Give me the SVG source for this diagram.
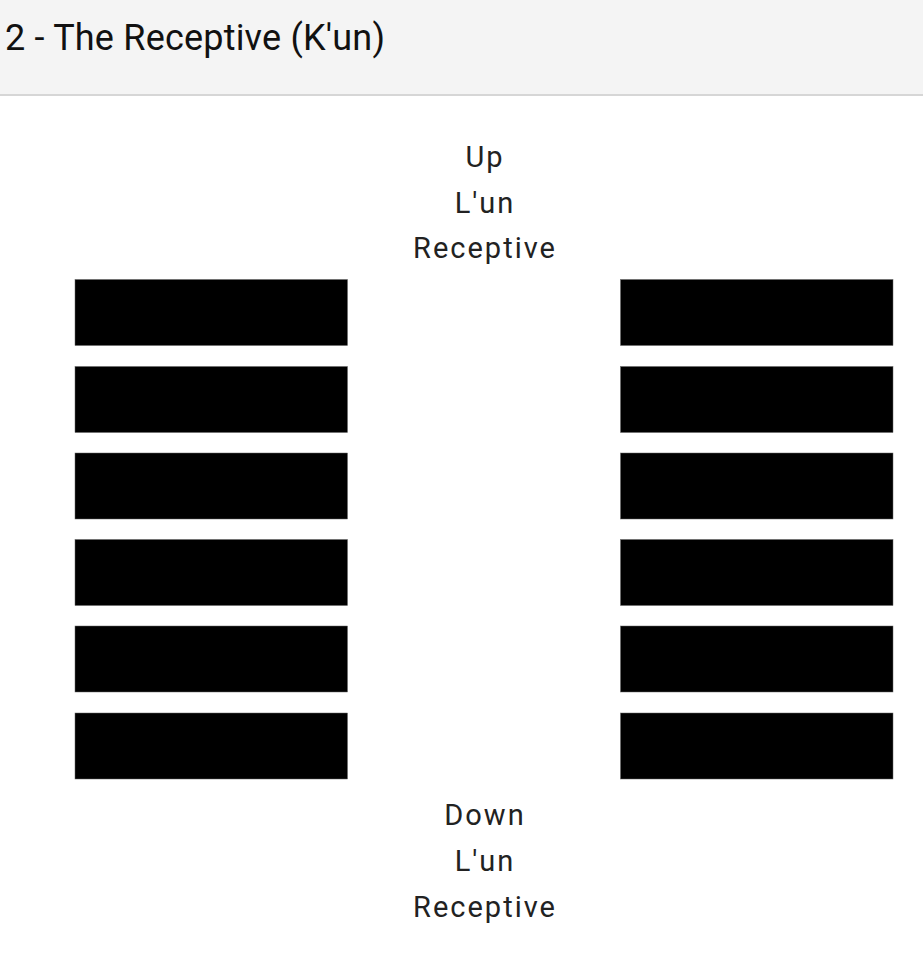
<svg xmlns="http://www.w3.org/2000/svg" width="923" height="958" viewBox="0 0 923 958">
<style>
.bar{fill:#000;stroke:#666;stroke-width:0.5}
.lbl{font-family:Roboto,"Liberation Sans",sans-serif;font-size:29px;letter-spacing:2px;fill:#222;text-anchor:middle}
.title{font-family:Roboto,"Liberation Sans",sans-serif;font-size:36px;letter-spacing:0.2px;fill:#111}
</style>
<rect x="0" y="0" width="923" height="958" fill="#fff"/>
<g id="header">
<rect x="0" y="0" width="923" height="94" fill="#f4f4f4"/>
<rect x="0" y="94" width="923" height="2" fill="#d6d6d6"/>
<text class="title" x="5" y="50">2 - The Receptive (K'un)</text>
</g>
<g id="top-label">
<text class="lbl" x="485" y="167">Up</text>
<text class="lbl" x="485" y="213">L'un</text>
<text class="lbl" x="485" y="258">Receptive</text>
</g>
<g id="left-hexagram">
<rect class="bar" x="75" y="279.5" width="272.5" height="66"/>
<rect class="bar" x="75" y="366.5" width="272.5" height="66"/>
<rect class="bar" x="75" y="453" width="272.5" height="66"/>
<rect class="bar" x="75" y="539.5" width="272.5" height="66"/>
<rect class="bar" x="75" y="626" width="272.5" height="66"/>
<rect class="bar" x="75" y="713" width="272.5" height="66"/>
</g>
<g id="right-hexagram">
<rect class="bar" x="620.5" y="279.5" width="272.5" height="66"/>
<rect class="bar" x="620.5" y="366.5" width="272.5" height="66"/>
<rect class="bar" x="620.5" y="453" width="272.5" height="66"/>
<rect class="bar" x="620.5" y="539.5" width="272.5" height="66"/>
<rect class="bar" x="620.5" y="626" width="272.5" height="66"/>
<rect class="bar" x="620.5" y="713" width="272.5" height="66"/>
</g>
<g id="bottom-label">
<text class="lbl" x="485" y="825">Down</text>
<text class="lbl" x="485" y="871">L'un</text>
<text class="lbl" x="485" y="917">Receptive</text>
</g>
<g id="connectors"/>
</svg>
